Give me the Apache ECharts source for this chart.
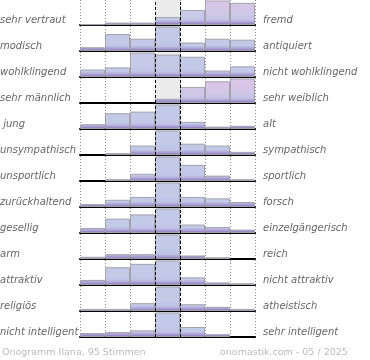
<!DOCTYPE html>
<html><head><meta charset="utf-8">
<script src="https://cdn.jsdelivr.net/npm/echarts@6/dist/echarts.min.js"></script>
<style>html,body{margin:0;padding:0;background:#fff}#c{width:370px;height:360px}</style>
</head><body><div id="c"></div>
<script>
const leftLabels = ['sehr vertraut','modisch','wohlklingend','sehr männlich',' jung','unsympathisch','unsportlich','zurückhaltend','gesellig','arm','attraktiv','religiös','nicht intelligent'];
const rightLabels = ['fremd','antiquiert','nicht wohlklingend','sehr weiblich','alt','sympathisch','sportlich','forsch','einzelgängerisch','reich','nicht attraktiv','atheistisch','sehr intelligent'];
const scaleSteps = ['1','2','3','4','5','6','7'];
const vertrautFremd = [1,3,3,10,19,31,28];
const modischAntiquiert = [4,18,13,26,9,13,12];
const wohlklingend = [7,9,23,21,19,6,10];
const maennlichWeiblich = [0,0,0,6,23,31,35];
const jungAlt = [6,20,22,31,9,3,4];
const sympathisch = [0,3,15,39,18,15,5];
const sportlich = [0,3,12,41,27,9,3];
const zurueckhaltendForsch = [4,10,14,34,14,12,7];
const geselligEinzel = [6,17,22,29,10,7,4];
const armReich = [5,11,11,56,8,4,0];
const attraktiv = [6,21,25,29,9,3,2];
const religioesAtheistisch = [4,4,15,47,13,8,4];
const intelligent = [7,9,12,44,18,5,0];
const footerLeft = 'Onogramm Ilana, 95 Stimmen';
const footerRight = 'onomastik.com - 05 / 2025';

const rows = [vertrautFremd, modischAntiquiert, wohlklingend, maennlichWeiblich, jungAlt, sympathisch, sportlich, zurueckhaltendForsch, geselligEinzel, armReich, attraktiv, religioesAtheistisch, intelligent];

const ROW_H = 26, PLOT_H = 25, LEFT = 80, W = 175;
const BLUE = [195,202,232], PINK = [221,196,229];
function mix(a,b,t){return 'rgb('+a.map((v,i)=>Math.round(v+(b[i]-v)*t)).join(',')+')';}

const grid=[], xAxis=[], yAxis=[], series=[], graphic=[];
rows.forEach((row, r) => {
  const top = r*ROW_H;
  const mx = Math.max(...row);
  const ymax = mx*1.02;
  grid.push({left: LEFT, top: top, width: W, height: PLOT_H});
  xAxis.push({gridIndex:r, type:'value', min:0, max:7, interval:1,
    axisLine:{show:true, onZero:false, lineStyle:{color:'#000', width:2}},
    axisTick:{show:false}, axisLabel:{show:false},
    splitLine:{show:true, lineStyle:{color:'#8a8a8a', type:[1,2], width:1}}});
  yAxis.push({gridIndex:r, type:'value', min:0, max:ymax, show:false, splitLine:{show:false}});
  const center = row[3];
  series.push({type:'bar', xAxisIndex:r, yAxisIndex:r, silent:true, barWidth:25, barGap:'-100%',
    itemStyle:{color:'#ececec'}, z:1,
    data:[[3.5, ymax]]});
  const data = row.map((v,i)=>{
    if (!v) return [i+0.5, null];
    const h = v/ymax*PLOT_H;
    const t = i===3 ? 0 : Math.max(0, Math.min(1, (v-center)/24));
    let s1 = Math.max(0.02, 1-5/h), s2 = Math.max(s1+0.01, 1-2.5/h), s3 = Math.max(s2+0.01, 1-1.2/h);
    s2 = Math.min(s2, 0.98); s3 = Math.min(Math.max(s3, s2+0.005), 0.995);
    return {value:[i+0.5, v], itemStyle:{color:{type:'linear', x:0, y:0, x2:0, y2:1, colorStops:[
      {offset:0, color: mix(BLUE,PINK,t)},
      {offset:Math.min(0.5, s1), color: mix(BLUE,PINK,t*0.6)},
      {offset:s1, color: mix([192,196,230],PINK,t*0.2)},
      {offset:s2, color:'#ab9fd3'},
      {offset:s3, color:'#9384c2'},
      {offset:1, color:'#6a5a98'}]}}};
  });
  series.push({type:'bar', xAxisIndex:r, yAxisIndex:r, barWidth:25, barGap:'-100%', z:2,
    itemStyle:{borderColor:'#a2a2ac', borderWidth:1},
    data: data,
    markLine:{silent:true, symbol:'none', label:{show:false},
      lineStyle:{color:'#000', type:[3,2], width:1},
      data:[{xAxis:3},{xAxis:4}]}});
  graphic.push({type:'text', left:0, top: top+15.5, style:{text:leftLabels[r], fill:'#666', font:'italic 10px "DejaVu Sans"'}});
  graphic.push({type:'text', left:263, top: top+15.5, style:{text:rightLabels[r], fill:'#666', font:'italic 10px "DejaVu Sans"'}});
});
graphic.push({type:'text', left:2, top:347.5, style:{text:footerLeft, fill:'#bbb', font:'9.5px "DejaVu Sans"'}});
graphic.push({type:'text', left:220, top:347.5, style:{text:footerRight, fill:'#bbb', font:'9.5px "DejaVu Sans"'}});

const chart = echarts.init(document.getElementById('c'), null, {renderer:'canvas'});
chart.setOption({animation:false, backgroundColor:'#fff', grid, xAxis, yAxis, series, graphic});
</script></body></html>
